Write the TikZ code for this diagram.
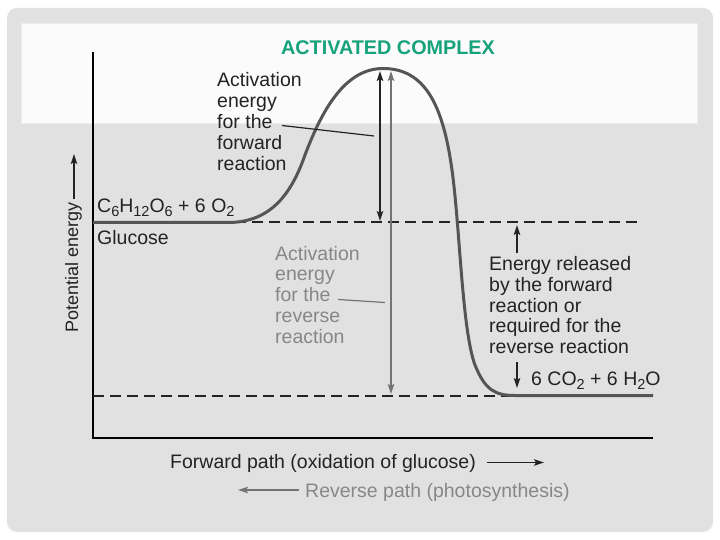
\documentclass[tikz,border=0pt]{standalone}
\usepackage{fontspec}
\setmainfont{Liberation Sans}
\usetikzlibrary{arrows.meta}
\definecolor{panel}{RGB}{225,225,225}
\definecolor{band}{RGB}{251,251,251}
\definecolor{titlec}{RGB}{22,163,124}
\definecolor{txt}{RGB}{35,35,35}
\definecolor{gtxt}{RGB}{135,135,135}
\definecolor{curvec}{RGB}{85,85,85}
\definecolor{garr}{RGB}{115,115,115}
\newcommand{\chsub}[1]{\raisebox{-4pt}{\fontsize{14.5}{14.5}\selectfont #1}}
\tikzset{
  lbl/.style={font=\fontsize{19.5}{20.8}\selectfont, text=txt, inner sep=0pt, align=left, anchor=base west},
  glbl/.style={lbl, text=gtxt},
  curveline/.style={line width=3pt, draw=curvec, line join=round},
  dline/.style={line width=2pt, draw=txt, dash pattern=on 11pt off 6pt},
  axisline/.style={line width=2pt, draw=black},
  tipb/.tip={Stealth[length=10pt,width=6.5pt,inset=2pt]},
  barrow/.style={line width=1.8pt, draw=txt, tipb-tipb},
  garrow/.style={line width=1.8pt, draw=garr, tipb-tipb},
  sarrow/.style={line width=1.7pt, draw=txt, -tipb},
  leader/.style={line width=1.2pt, draw=txt},
  gleader/.style={line width=1.2pt, draw=garr},
}
\begin{document}
\begin{tikzpicture}[x=1pt,y=-1pt]
\useasboundingbox (0,0) rectangle (720,540);
\fill[white] (0,0) rectangle (720,540);
\fill[panel, rounded corners=10pt] (7,8) rectangle (713,532);
\fill[band] (21,23) rectangle (698,124);
\draw[white!93!black, line width=1pt] (21.5,23.5) rectangle (697.5,123.5);

% title
\node[font=\bfseries\fontsize{19.8}{21}\selectfont, text=titlec, inner sep=0pt, anchor=base] (title) at (388,55) {ACTIVATED COMPLEX};

% axes
\coordinate (ytop) at (93,52);
\coordinate (origin) at (93,438);
\coordinate (xend) at (653,438);
\draw[axisline] (ytop) -- (origin) -- (xend);

% y label
\node[lbl, font=\fontsize{18}{20}\selectfont, rotate=90] (ylab) at (78,333) {Potential energy};
\coordinate (ya1) at (74,199);
\coordinate (ya2) at (74,154);
\draw[sarrow] (ya1) -- (ya2);

% dashed levels
\coordinate (d1a) at (235,222.5);
\coordinate (d1b) at (643,222.5);
\coordinate (d2a) at (93,395.5);
\coordinate (d2b) at (512,395.5);
\draw[dline] (d1a) -- (d1b);
\draw[dline] (d2a) -- (d2b);

% energy curve
\draw[curveline] (93,222.5) -- (228,222.5)
  .. controls (272,222.5) and (292,192) .. (305,155)
  .. controls (322,110) and (345,68.5) .. (383,68.5)
  .. controls (425,68.5) and (443,105) .. (452,170)
  .. controls (460,228) and (462,330) .. (475,365)
  .. controls (485,390) and (495,395.5) .. (515,395.5)
  -- (653,395.5);

% activation arrows
\coordinate (fa1) at (380,71);
\coordinate (fa2) at (380,221);
\draw[barrow] (fa1) -- (fa2);
\coordinate (ra1) at (391,71);
\coordinate (ra2) at (391,394);
\draw[garrow] (ra1) -- (ra2);

% labels (base anchor = last line)
\node[lbl] (fwdact) at (217,170.2) {Activation\\energy\\for the\\forward\\reaction};
\coordinate (fl1) at (282,125.5);
\coordinate (fl2) at (374,136);
\draw[leader] (fl1) -- (fl2);

\node[glbl] (revact) at (275,343.2) {Activation\\energy\\for the\\reverse\\reaction};
\coordinate (rl1) at (338,299.5);
\coordinate (rl2) at (385,302.5);
\draw[gleader] (rl1) -- (rl2);

\node[lbl] (glcf) at (97,213) {C\chsub{6}H\chsub{12}O\chsub{6} + 6 O\chsub{2}};
\node[lbl] (glc) at (97,244) {Glucose};

\node[lbl] (rel) at (489,353.7) {Energy released\\by the forward\\reaction or\\required for the\\reverse reaction};
\coordinate (ua1) at (517,253);
\coordinate (ua2) at (517,225);
\draw[sarrow] (ua1) -- (ua2);
\coordinate (da1) at (517,362);
\coordinate (da2) at (517,388);
\draw[sarrow] (da1) -- (da2);

\node[lbl] (prod) at (531,385) {6 CO\chsub{2} + 6 H\chsub{2}O};

% path labels
\node[lbl] (fwdpath) at (170,468) {Forward path (oxidation of glucose)};
\coordinate (fp1) at (487,462.5);
\coordinate (fp2) at (544,462.5);
\draw[sarrow] (fp1) -- (fp2);

\node[glbl] (revpath) at (305,497) {Reverse path (photosynthesis)};
\coordinate (rp1) at (299,490);
\coordinate (rp2) at (238,490);
\draw[line width=1.7pt, draw=garr, -tipb] (rp1) -- (rp2);
\end{tikzpicture}
\end{document}
